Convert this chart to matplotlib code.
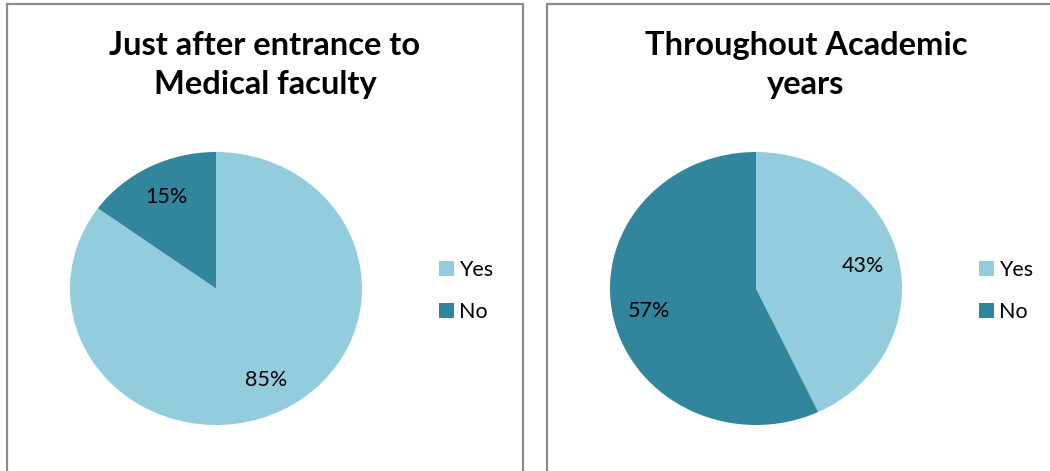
import matplotlib.pyplot as plt
from matplotlib.patches import Rectangle

plt.rcParams['font.family'] = ['Lato', 'DejaVu Sans']

labels = ['Yes', 'No']
titles = ['Just after entrance to\nMedical faculty', 'Throughout Academic\nyears']
values_before = [85, 15]
values_during = [43, 57]
colors = ['#93CDDD', '#31859C']

W, H = 1050, 471
fig = plt.figure(figsize=(W / 100, H / 100), dpi=100)

# panel borders (pixel coords -> figure coords)
def px_rect(x0, y0, x1, y1):
    return Rectangle((x0 / W, 1 - y1 / H), (x1 - x0) / W, (y1 - y0) / H,
                     transform=fig.transFigure, fill=False,
                     edgecolor='#8c8c8c', linewidth=1.6)

fig.patches.append(px_rect(7, 4, 523, 480))
fig.patches.append(px_rect(547, 4, 1065, 480))

panels = [
    (70, values_before, titles[0], 265, 433),
    (610, values_during, titles[1], 806, 973),
]

for x0, vals, title, tx, lx in panels:
    ax = fig.add_axes([x0 / W, 1 - 425 / H, 292 / W, 273 / H])
    wedges, _, autotexts = ax.pie(vals, colors=colors, startangle=90, counterclock=False,
                                  autopct='%d%%', pctdistance=0.75,
                                  textprops={'fontsize': 15.5, 'color': 'black'})
    ax.set_aspect('auto')
    ax.set_xlim(-1, 1)
    ax.set_ylim(-1, 1)
    fig.text(tx / W, 1 - 65 / H, title, ha='center', va='center',
             fontsize=23.5, fontweight='bold', linespacing=1.38)
    fig.legend(wedges, labels, loc='center left',
               bbox_to_anchor=(lx / W - 0.013, 1 - 291 / H),
               frameon=False, fontsize=15.5, handlelength=0.7, handleheight=0.7,
               handletextpad=0.25, labelspacing=1.05)

fig.savefig('out.png', dpi=100)
